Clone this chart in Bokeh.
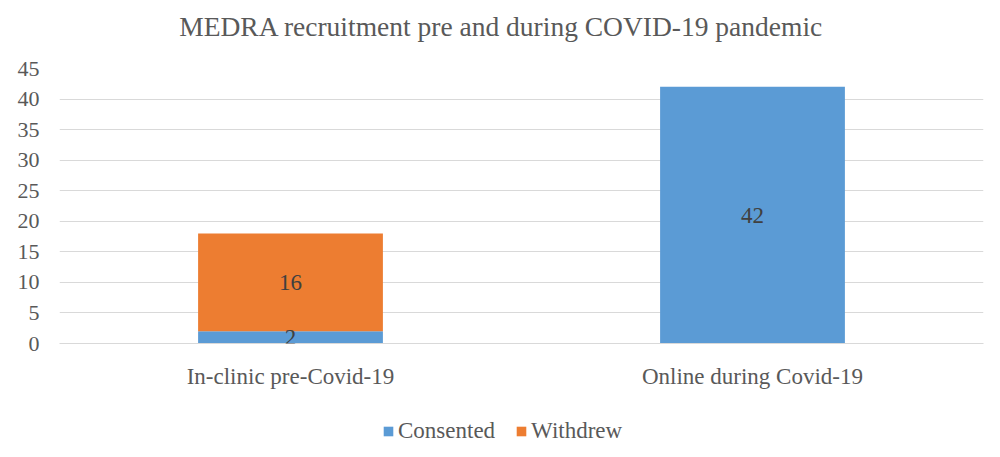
from bokeh.plotting import figure
from bokeh.layouts import column
from bokeh.models import (ColumnDataSource, FactorRange, Range1d, FixedTicker, LabelSet,
                          Legend, LegendItem, Label)
from bokeh.embed import file_html
from bokeh.resources import INLINE

title_text = "MEDRA recruitment pre and during COVID-19 pandemic"
categories = ["In-clinic pre-Covid-19", "Online during Covid-19"]
series_names = ["Consented", "Withdrew"]
consented = [2, 42]
withdrew = [16, 0]
colors = ["#5B9BD5", "#ED7D31"]
y_ticks = [0, 5, 10, 15, 20, 25, 30, 35, 40, 45]

FONT = "Liberation Serif"
TEXT = "#595959"
W = 992


def strip(height):
    f = figure(width=W, height=height, output_backend="svg", toolbar_location=None,
               x_axis_type=None, y_axis_type=None, outline_line_color=None,
               x_range=Range1d(0, 1), y_range=Range1d(0, 1),
               min_border_left=0, min_border_right=0, min_border_top=0, min_border_bottom=0)
    f.xgrid.grid_line_color = None
    f.ygrid.grid_line_color = None
    return f


# title strip
tf = strip(50)
tf.add_layout(Label(x=442, y=24, x_units="screen", y_units="screen", text=title_text,
                    text_align="center", text_baseline="middle", text_font=FONT,
                    text_font_size="27.5px", text_color=TEXT))

source = ColumnDataSource(dict(cat=categories, Consented=consented, Withdrew=withdrew))

p = figure(x_range=FactorRange(*categories, range_padding=0), y_range=Range1d(0, 45),
           width=W, height=350, output_backend="svg", toolbar_location=None,
           min_border_left=59, min_border_right=9, min_border_top=18, min_border_bottom=57,
           outline_line_color=None)

renderers = p.vbar_stack(series_names, x="cat", width=0.4, color=colors, source=source,
                         line_color=None)

# data labels at segment midpoints
lab_x, lab_y, lab_t = [], [], []
for i, c in enumerate(categories):
    base = 0
    for vals in (consented, withdrew):
        v = vals[i]
        if v > 0:
            lab_x.append(c)
            lab_y.append(base + v / 2)
            lab_t.append(str(v))
        base += v
lsrc = ColumnDataSource(dict(x=lab_x, y=lab_y, t=lab_t))
p.add_layout(LabelSet(x="x", y="y", text="t", source=lsrc, text_align="center",
                      text_baseline="middle", text_font=FONT, text_font_size="23px",
                      text_color="#404040"))

p.yaxis.ticker = FixedTicker(ticks=y_ticks)
p.yaxis.axis_line_color = None
p.yaxis.major_tick_line_color = None
p.yaxis.minor_tick_line_color = None
p.yaxis.major_label_text_font = FONT
p.yaxis.major_label_text_font_size = "22px"
p.yaxis.major_label_text_color = TEXT
p.yaxis.major_label_standoff = 14

p.xaxis.axis_line_color = "#D9D9D9"
p.xaxis.axis_line_width = 1
p.xaxis.major_tick_line_color = None
p.xaxis.minor_tick_line_color = None
p.xaxis.major_label_text_font = FONT
p.xaxis.major_label_text_font_size = "23px"
p.xaxis.major_label_text_color = TEXT
p.xaxis.major_label_standoff = 14

p.xgrid.grid_line_color = None
p.ygrid.grid_line_color = "#D9D9D9"
p.ygrid.grid_line_width = 1
p.ygrid.ticker = FixedTicker(ticks=y_ticks)

# legend strip below the chart
lf = strip(49)
dummy = ColumnDataSource(dict(x=[-5], top=[-5]))
leg_rs = [lf.vbar(x="x", top="top", bottom=-5, width=0.1, color=c, line_color=None, source=dummy)
          for c in colors]
legend = Legend(items=[LegendItem(label=n, renderers=[r]) for n, r in zip(series_names, leg_rs)],
                orientation="horizontal", location=(323, 5),
                label_text_font=FONT, label_text_font_size="23px", label_text_color=TEXT,
                glyph_width=12, glyph_height=12, spacing=20, label_standoff=4,
                border_line_color=None, background_fill_alpha=0, padding=2, margin=0)
lf.add_layout(legend, "center")

layout = column(tf, p, lf, spacing=0)
open("out.html", "w").write(file_html(layout, INLINE))
